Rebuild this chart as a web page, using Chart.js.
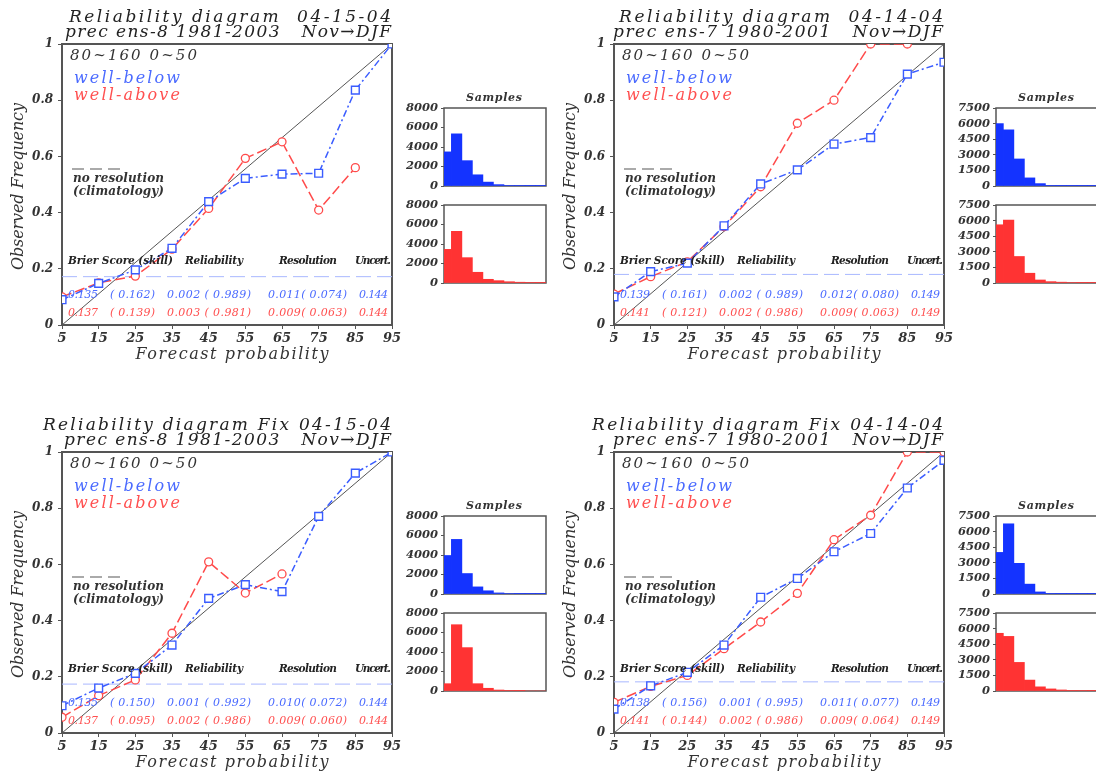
<!DOCTYPE html>
<html>
<head>
<meta charset="utf-8">
<script src="https://cdn.jsdelivr.net/npm/chart.js@4.4.1/dist/chart.umd.min.js"></script>
<style>
  html, body { margin: 0; padding: 0; background: #fff; width: 1096px; height: 773px; overflow: hidden; }
  #fig { position: relative; width: 1096px; height: 773px; overflow: hidden; }
  #fig canvas { position: absolute; }
  .t { position: absolute; white-space: pre; font-family: "DejaVu Serif", serif; font-style: italic; line-height: 1; color: #333; }
  .dash { position: absolute; height: 2px; background: repeating-linear-gradient(to right, #aaa 0 12px, transparent 12px 18px); }
</style>
</head>
<body>
<div id="fig"></div>
<script>
/* ---------- data ---------- */
const probs  = [5, 15, 25, 35, 45, 55, 65, 75, 85, 95];
const yTicks = [0, 0.2, 0.4, 0.6, 0.8, 1];
const diagX  = [5, 95];
const diagY  = [0, 1];

const statHeads = ["Brier Score (skill)", "Reliability", "Resolution", "Uncert."];

// top-left
const p1Title = ["Reliability diagram  04-15-04", "prec ens-8 1981-2003   Nov\u2192DJF"];
const p1Below = [0.09, 0.148, 0.196, 0.273, 0.439, 0.522, 0.537, 0.540, 0.836, 1.0];
const p1Above = [0.10, 0.15, 0.174, 0.27, 0.415, 0.593, 0.652, 0.409, 0.56, null];
const p1Clim  = 0.172;
const p1StatsBelow = [0.135, 0.162, 0.002, 0.989, 0.011, 0.074, 0.144];
const p1StatsAbove = [0.137, 0.139, 0.003, 0.981, 0.009, 0.063, 0.144];
const p1HistBelow  = [3500, 5350, 2600, 1150, 400, 140, 60, 40, 30, 20];
const p1HistAbove  = [3450, 5300, 2600, 1100, 380, 240, 130, 80, 40, 20];

// top-right
const p2Title = ["Reliability diagram  04-14-04", "prec ens-7 1980-2001   Nov\u2192DJF"];
const p2Below = [0.10, 0.19, 0.22, 0.353, 0.502, 0.552, 0.644, 0.667, 0.893, 0.935];
const p2Above = [0.11, 0.172, 0.225, 0.35, 0.492, 0.718, 0.80, 1.0, 1.0, null];
const p2Clim  = 0.18;
const p2StatsBelow = [0.139, 0.161, 0.002, 0.989, 0.012, 0.080, 0.149];
const p2StatsAbove = [0.141, 0.121, 0.002, 0.986, 0.009, 0.063, 0.149];
const p2HistBelow  = [6000, 5400, 2600, 780, 230, 60, 30, 20, 10, 10];
const p2HistAbove  = [5600, 6050, 2550, 940, 290, 130, 80, 50, 30, 20];

// bottom-left
const p3Title = ["Reliability diagram Fix 04-15-04", "prec ens-8 1981-2003   Nov\u2192DJF"];
const p3Below = [0.097, 0.16, 0.212, 0.313, 0.479, 0.528, 0.503, 0.771, 0.925, 1.0];
const p3Above = [0.056, 0.133, 0.189, 0.355, 0.609, 0.498, 0.566, null, null, null];
const p3Clim  = 0.174;
const p3StatsBelow = [0.135, 0.150, 0.001, 0.992, 0.010, 0.072, 0.144];
const p3StatsAbove = [0.137, 0.095, 0.002, 0.986, 0.009, 0.060, 0.144];
const p3HistBelow  = [3950, 5600, 2100, 730, 330, 110, 50, 30, 20, 20];
const p3HistAbove  = [750, 6800, 4450, 750, 280, 100, 40, 10, 0, 0];

// bottom-right
const p4Title = ["Reliability diagram Fix 04-14-04", "prec ens-7 1980-2001   Nov\u2192DJF"];
const p4Below = [0.085, 0.168, 0.216, 0.313, 0.483, 0.55, 0.645, 0.71, 0.872, 0.97];
const p4Above = [0.109, 0.166, 0.205, 0.30, 0.395, 0.497, 0.688, 0.775, 1.0, 1.0];
const p4Clim  = 0.182;
const p4StatsBelow = [0.138, 0.156, 0.001, 0.995, 0.011, 0.077, 0.149];
const p4StatsAbove = [0.141, 0.144, 0.002, 0.986, 0.009, 0.064, 0.149];
const p4HistBelow  = [4000, 6750, 2950, 950, 200, 60, 30, 20, 10, 10];
const p4HistAbove  = [5550, 5250, 2750, 1050, 400, 200, 100, 60, 40, 20];

const histTicks8000 = [0, 2000, 4000, 6000, 8000];
const histTicks7500 = [0, 1500, 3000, 4500, 6000, 7500];
const histRange = [3, 100];

/* ---------- styles / layout ---------- */
const FONT = '"DejaVu Serif", serif';
const BLUE = "#3a5cff", RED = "#ff4a4a", CLIM = "#a9b8ff";
const TXT_BLUE = "#4a6aff", TXT_RED = "#ff5050";
const HIST_BLUE = "#1433ff", HIST_RED = "#ff3333";
const PW = 330, PH = 281;   // reliability plot area
const HW = 102, HH = 78;    // sample histograms

const panels = [
  { L: 62,  T: 44,  title: p1Title, titleW: [322, 326], below: p1Below, above: p1Above, clim: p1Clim,
    sB: p1StatsBelow, sA: p1StatsAbove, hB: p1HistBelow, hA: p1HistAbove, hTicks: histTicks8000 },
  { L: 614, T: 44,  title: p2Title, titleW: [324, 330], below: p2Below, above: p2Above, clim: p2Clim,
    sB: p2StatsBelow, sA: p2StatsAbove, hB: p2HistBelow, hA: p2HistAbove, hTicks: histTicks7500 },
  { L: 62,  T: 452, title: p3Title, titleW: [348, 327], below: p3Below, above: p3Above, clim: p3Clim,
    sB: p3StatsBelow, sA: p3StatsAbove, hB: p3HistBelow, hA: p3HistAbove, hTicks: histTicks8000 },
  { L: 614, T: 452, title: p4Title, titleW: [351, 330], below: p4Below, above: p4Above, clim: p4Clim,
    sB: p4StatsBelow, sA: p4StatsAbove, hB: p4HistBelow, hA: p4HistAbove, hTicks: histTicks7500 },
];

const fig = document.getElementById("fig");

// box round the plot area
const framePlugin = {
  id: "frame",
  beforeDatasetsDraw(chart, args, opts) {
    const { ctx, chartArea: a } = chart;
    ctx.save();
    ctx.strokeStyle = opts.color;
    ctx.lineWidth = opts.width;
    ctx.strokeRect(a.left, a.top, a.right - a.left, a.bottom - a.top);
    ctx.restore();
  },
};

function mountCanvas(x, y, w, h) {
  const cv = document.createElement("canvas");
  cv.width = w; cv.height = h;
  cv.style.left = x + "px"; cv.style.top = y + "px";
  cv.style.width = w + "px"; cv.style.height = h + "px";
  fig.appendChild(cv);
  return cv;
}

/* text placed by its baseline, stretched to the width seen in the picture */
function addText(str, o) {
  const el = document.createElement("div");
  el.className = "t";
  el.style.fontSize = o.size + "px";
  if (o.weight) el.style.fontWeight = o.weight;
  if (o.color) el.style.color = o.color;
  el.textContent = str;
  const probe = document.createElement("span");
  probe.style.cssText = "display:inline-block;width:0;height:0;vertical-align:baseline;";
  el.appendChild(probe);
  fig.appendChild(el);
  let w = el.getBoundingClientRect().width;
  if (o.width && str.length > 1) {
    const ls = (o.width - w) / (str.length - 1);
    el.style.letterSpacing = ls + "px";
    w = o.width;
  }
  const base = probe.offsetTop;
  if (o.rotate) {
    // text runs upward from (x, y + w/2), baseline on x
    el.style.transformOrigin = "0px " + base + "px";
    el.style.transform = "rotate(-90deg)";
    el.style.left = o.x + "px";
    el.style.top = (o.y + w / 2 - base) + "px";
    return el;
  }
  let left = o.x;
  if (o.align === "right") left = o.x - w;
  if (o.align === "center") left = o.x - w / 2;
  el.style.left = left + "px";
  el.style.top = (o.y - base) + "px";
  return el;
}

function tickFont(size) {
  return { family: FONT, style: "italic", weight: "bold", size };
}

/* ---------- reliability diagram ---------- */
function mainChart(p) {
  const cv = mountCanvas(p.L - 62, p.T - 20, 62 + PW + 20, 20 + PH + 40);
  const pts = (arr) => probs.map((x, i) => ({ x, y: arr[i] }));
  new Chart(cv, {
    type: "line",
    data: {
      datasets: [
        {
          data: pts(p.below), borderColor: BLUE, borderWidth: 1.5, borderDash: [7, 3, 2, 3],
          pointStyle: "rect", pointRadius: 5.5, pointBorderColor: BLUE, pointBorderWidth: 1.4,
          pointBackgroundColor: "#fff", clip: 0, spanGaps: false,
        },
        {
          data: pts(p.above), borderColor: RED, borderWidth: 1.5, borderDash: [10, 4],
          pointStyle: "circle", pointRadius: 4, pointBorderColor: RED, pointBorderWidth: 1.3,
          pointBackgroundColor: "#fff", clip: 0, spanGaps: false,
        },
        {
          data: [{ x: probs[0], y: p.clim }, { x: probs[probs.length - 1], y: p.clim }],
          borderColor: CLIM, borderWidth: 1, borderDash: [15, 6], pointRadius: 0, clip: 0,
        },
        {
          data: diagX.map((x, i) => ({ x, y: diagY[i] })),
          borderColor: "#555", borderWidth: 1, pointRadius: 0, clip: 0,
        },
      ],
    },
    options: {
      responsive: false, animation: false, devicePixelRatio: 1,
      layout: { padding: { left: 0, top: 20, right: 20, bottom: 0 } },
      plugins: { legend: { display: false }, tooltip: { enabled: false }, frame: { color: "#555", width: 2 } },
      scales: {
        x: {
          type: "linear", min: probs[0], max: probs[probs.length - 1],
          afterBuildTicks: (s) => { s.ticks = probs.map((v) => ({ value: v })); },
          afterFit: (s) => { s.height = 40; },
          ticks: { font: tickFont(13), color: "#333", padding: 2, maxRotation: 0, autoSkip: false, callback: (v) => String(v) },
          grid: { drawOnChartArea: false, tickLength: 4, color: "#555" },
          border: { display: false },
        },
        y: {
          type: "linear", min: 0, max: 1,
          afterBuildTicks: (s) => { s.ticks = yTicks.map((v) => ({ value: v })); },
          afterFit: (s) => { s.width = 62; },
          ticks: { font: tickFont(12), color: "#333", padding: 5, autoSkip: false, callback: (v) => String(v) },
          grid: { drawOnChartArea: false, tickLength: 4, color: "#555" },
          border: { display: false },
        },
      },
    },
    plugins: [framePlugin],
  });
}

/* ---------- sample histogram ---------- */
function histChart(x0, y0, vals, ticks, color) {
  const cv = mountCanvas(x0 - 55, y0 - 15, 55 + HW + 15, 15 + HH + 15);
  new Chart(cv, {
    type: "bar",
    data: {
      datasets: [{
        data: probs.map((x, i) => ({ x, y: vals[i] })),
        backgroundColor: color, borderWidth: 0, barPercentage: 1, categoryPercentage: 1, clip: 0,
      }],
    },
    options: {
      responsive: false, animation: false, devicePixelRatio: 1,
      layout: { padding: { left: 0, top: 15, right: 15, bottom: 15 } },
      plugins: { legend: { display: false }, tooltip: { enabled: false }, frame: { color: "#555", width: 1.5 } },
      scales: {
        x: { type: "linear", display: false, offset: false, min: histRange[0], max: histRange[1] },
        y: {
          min: 0, max: ticks[ticks.length - 1],
          afterBuildTicks: (s) => { s.ticks = ticks.map((v) => ({ value: v })); },
          afterFit: (s) => { s.width = 55; },
          ticks: { font: tickFont(11.5), color: "#333", padding: 3, autoSkip: false, callback: (v) => String(v) },
          grid: { drawOnChartArea: false, tickLength: 3, color: "#555" },
          border: { display: false },
        },
      },
    },
    plugins: [framePlugin],
  });
}

function statChunks(s) {
  const f = (v) => v.toFixed(3);
  return [f(s[0]), "( " + f(s[1]) + ")", f(s[2]) + " ( " + f(s[3]) + ")", f(s[4]) + "( " + f(s[5]) + ")", f(s[6])];
}

function drawPanel(p) {
  const { L, T } = p;
  mainChart(p);
  histChart(L + 382, T + 64, p.hB, p.hTicks, HIST_BLUE);
  histChart(L + 382, T + 161, p.hA, p.hTicks, HIST_RED);

  addText(p.title[0], { x: L + 329, y: T - 22, size: 17, width: p.titleW[0], align: "right", color: "#222" });
  addText(p.title[1], { x: L + 329, y: T - 7, size: 17, width: p.titleW[1], align: "right", color: "#222" });

  addText("80~160 0~50", { x: L + 8, y: T + 16, size: 15, width: 127 });
  addText("well-below", { x: L + 12, y: T + 39, size: 16, width: 106, color: TXT_BLUE });
  addText("well-above", { x: L + 12, y: T + 56, size: 16, width: 106, color: TXT_RED });

  const d = document.createElement("div");
  d.className = "dash";
  d.style.left = (L + 10) + "px"; d.style.top = (T + 124) + "px"; d.style.width = "48px";
  fig.appendChild(d);
  addText("no resolution", { x: L + 11, y: T + 138, size: 12, weight: "bold", width: 91 });
  addText("(climatology)", { x: L + 11, y: T + 151, size: 12, weight: "bold", width: 91 });

  const headX = [6, 123, 217, 293], headW = [105, 58, 58, 36];
  statHeads.forEach((h, i) => addText(h, { x: L + headX[i], y: T + 220, size: 10.5, weight: "bold", width: headW[i], color: "#222" }));

  const chunkX = [6, 48, 105, 206, 297], chunkW = [30, 45, 84, 79, 29];
  statChunks(p.sB).forEach((c, i) => addText(c, { x: L + chunkX[i], y: T + 254, size: 11, width: chunkW[i], color: TXT_BLUE }));
  statChunks(p.sA).forEach((c, i) => addText(c, { x: L + chunkX[i], y: T + 272, size: 11, width: chunkW[i], color: TXT_RED }));

  addText("Forecast probability", { x: L + 170, y: T + 315, size: 16, width: 193, align: "center" });
  addText("Observed Frequency", { x: L - 39, y: T + 142, size: 16, width: 167, rotate: true });
  addText("Samples", { x: L + 432, y: T + 57, size: 11, weight: "bold", width: 56, align: "center" });
}

panels.forEach(drawPanel);
</script>
</body>
</html>
